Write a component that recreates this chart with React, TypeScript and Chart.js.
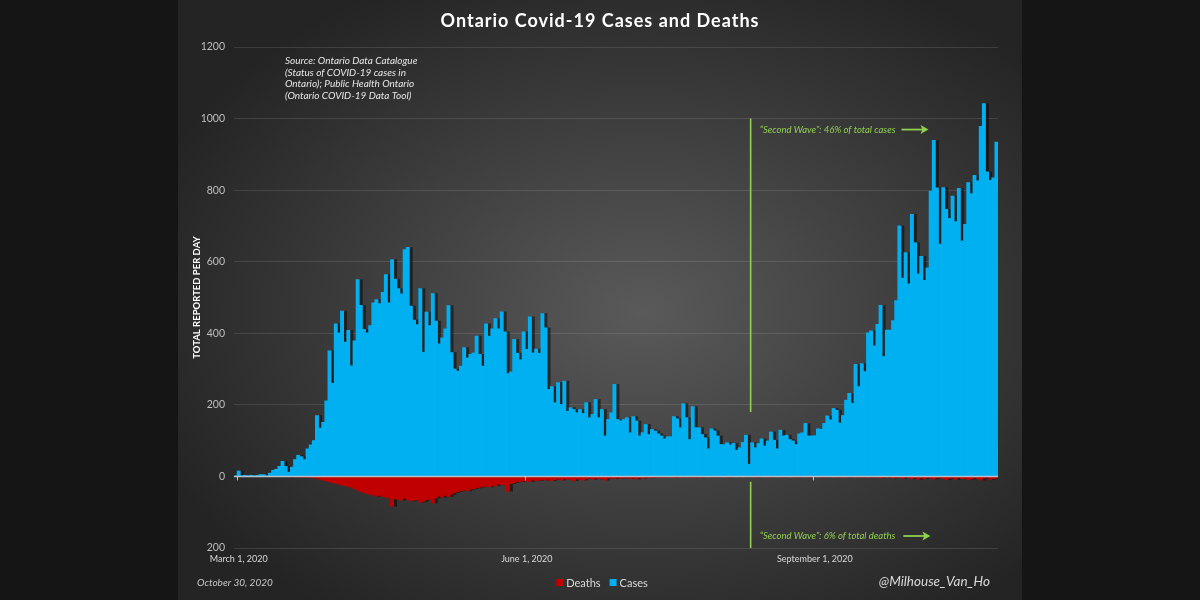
import React, { useEffect, useRef } from 'react';
import { Chart, registerables } from 'chart.js';

Chart.register(...registerables);

// ---------- DATA (daily reported, Feb 29 – Oct 29, 2020) ----------
const casesFeb = [1];
const casesMar = [15, 2, 3, 2, 3, 2, 3, 5, 5, 2, 9, 17, 20, 28, 42, 28, 12, 26, 47, 59, 55, 47, 77, 88, 100, 170, 135, 151, 211, 351, 260];
const casesApr = [426, 401, 462, 375, 408, 309, 379, 550, 478, 411, 401, 421, 485, 494, 483, 514, 564, 485, 606, 551, 525, 510, 634, 640, 476, 437, 424, 525, 347, 459];
const casesMay = [421, 511, 434, 370, 387, 412, 477, 346, 300, 294, 308, 360, 331, 341, 345, 392, 341, 308, 426, 392, 412, 441, 412, 460, 404, 287, 292, 383, 344, 326, 404];
const casesJun = [355, 446, 345, 356, 344, 455, 415, 243, 251, 206, 262, 201, 266, 182, 192, 187, 178, 187, 176, 206, 164, 173, 215, 164, 187, 113, 159, 178, 257, 159];
const casesJul = [155, 159, 164, 122, 167, 155, 113, 122, 145, 117, 131, 127, 119, 113, 105, 111, 111, 167, 161, 136, 203, 164, 103, 195, 136, 136, 117, 108, 77, 133, 127];
const casesAug = [113, 89, 89, 94, 88, 92, 73, 80, 95, 115, 34, 94, 80, 92, 105, 85, 99, 124, 101, 77, 129, 113, 115, 103, 99, 89, 119, 122, 148, 113, 113];
const casesSep = [114, 133, 132, 148, 169, 158, 190, 185, 149, 170, 213, 232, 204, 313, 251, 315, 293, 401, 407, 365, 425, 478, 335, 409, 409, 435, 491, 700, 554, 625];
const casesOct = [538, 732, 653, 566, 615, 548, 583, 797, 939, 806, 649, 807, 746, 721, 783, 712, 805, 658, 704, 821, 790, 841, 826, 978, 1042, 851, 827, 834, 934];

const deathsFeb = [0];
const deathsMar = [0, 0, 0, 0, 0, 0, 0, 0, 0, 0, 0, 0, 0, 0, 0, 0, 1, 0, 1, 1, 2, 2, 3, 3, 4, 5, 8, 11, 12, 15, 17];
const deathsApr = [19, 21, 24, 26, 28, 30, 34, 38, 42, 45, 48, 50, 52, 55, 53, 56, 58, 60, 83, 62, 64, 66, 60, 65, 68, 66, 65, 72, 70, 65];
const deathsMay = [64, 74, 60, 55, 58, 53, 56, 50, 45, 42, 40, 38, 40, 36, 34, 32, 30, 28, 27, 29, 25, 26, 22, 22, 24, 41, 20, 17, 15, 14, 12];
const deathsJun = [13, 14, 10, 12, 11, 9, 10, 8, 12, 9, 7, 10, 6, 8, 9, 12, 7, 8, 10, 6, 5, 8, 4, 7, 6, 10, 5, 4, 6, 3];
const deathsJul = [5, 4, 3, 6, 4, 7, 3, 5, 2, 4, 3, 2, 1, 3, 2, 1, 2, 3, 1, 2, 1, 2, 1, 3, 1, 2, 1, 0, 1, 2, 1];
const deathsAug = [1, 0, 1, 2, 1, 0, 1, 0, 1, 1, 0, 1, 2, 1, 0, 1, 2, 1, 0, 1, 2, 1, 0, 1, 1, 2, 1, 0, 1, 2, 1];
const deathsSep = [0, 1, 2, 1, 1, 0, 1, 2, 1, 1, 2, 1, 0, 2, 1, 2, 1, 3, 2, 1, 2, 4, 2, 3, 1, 4, 2, 3, 5, 2];
const deathsOct = [4, 6, 3, 8, 4, 6, 3, 5, 7, 4, 3, 6, 9, 5, 4, 8, 3, 6, 5, 9, 7, 4, 6, 10, 5, 3, 8, 6, 4];

const cases = [...casesFeb, ...casesMar, ...casesApr, ...casesMay, ...casesJun, ...casesJul, ...casesAug, ...casesSep, ...casesOct];
const deaths = [...deathsFeb, ...deathsMar, ...deathsApr, ...deathsMay, ...deathsJun, ...deathsJul, ...deathsAug, ...deathsSep, ...deathsOct];

const MONTHS = ['January', 'February', 'March', 'April', 'May', 'June', 'July', 'August', 'September', 'October', 'November', 'December'];
const categories = cases.map((_, i) => {
  const d = new Date(2020, 1, 29 + i);
  return `${MONTHS[d.getMonth()]} ${d.getDate()}, ${d.getFullYear()}`;
});

const xTickLabels = ['March 1, 2020', 'June 1, 2020', 'September 1, 2020'];
const yTicks = [-200, 0, 200, 400, 600, 800, 1000, 1200];
const secondWaveStart = 'August 12, 2020';

const titleText = 'Ontario Covid-19 Cases and Deaths';
const yTitle = 'TOTAL REPORTED PER DAY';
const sourceLines = [
  'Source: Ontario Data Catalogue',
  '(Status of COVID-19 cases in',
  'Ontario); Public Health Ontario',
  '(Ontario COVID-19 Data Tool)',
];
const waveCasesText = '\u201CSecond Wave\u201D: 46% of total cases';
const waveDeathsText = '\u201CSecond Wave\u201D: 6% of total deaths';
const dateText = 'October 30, 2020';
const handleText = '@Milhouse_Van_Ho';

const CASES_COLOR = '#00b0f0';
const DEATHS_COLOR = '#c00000';
const GREEN = '#92d050';
const FONT = 'Lato, "Open Sans", sans-serif';

function drawArrow(ctx: CanvasRenderingContext2D, x1: number, x2: number, y: number) {
  ctx.save();
  ctx.strokeStyle = GREEN;
  ctx.fillStyle = GREEN;
  ctx.lineWidth = 1.8;
  ctx.beginPath();
  ctx.moveTo(x1, y);
  ctx.lineTo(x2 - 4, y);
  ctx.stroke();
  ctx.beginPath();
  ctx.moveTo(x2, y);
  ctx.lineTo(x2 - 8, y - 4.5);
  ctx.lineTo(x2 - 6, y);
  ctx.lineTo(x2 - 8, y + 4.5);
  ctx.closePath();
  ctx.fill();
  ctx.restore();
}

const overlayPlugin = {
  id: 'overlay',
  beforeDatasetDraw(chart: any) {
    const c = chart.ctx;
    c.save();
    c.shadowColor = 'rgba(0,0,0,0.5)';
    c.shadowOffsetX = 3;
    c.shadowOffsetY = 0;
    c.shadowBlur = 0;
  },
  afterDatasetDraw(chart: any) {
    chart.ctx.restore();
  },
  afterDatasetsDraw(chart: any) {
    const { ctx, chartArea, scales } = chart;
    const xs = scales.x;
    const ys = scales.y;
    const step = xs.getPixelForValue(1) - xs.getPixelForValue(0);
    const y0 = ys.getPixelForValue(0);
    ctx.save();
    ctx.strokeStyle = '#b8c0c8';
    ctx.lineWidth = 1.6;
    ctx.beginPath();
    ctx.moveTo(chartArea.left, y0);
    ctx.lineTo(chartArea.right, y0);
    ctx.stroke();
    ctx.strokeStyle = '#c8c8c8';
    ctx.lineWidth = 1;
    xTickLabels.forEach((lbl) => {
      const idx = categories.indexOf(lbl);
      if (idx < 0) return;
      const x = Math.round(xs.getPixelForValue(idx) - step / 2) + 0.5;
      ctx.beginPath();
      ctx.moveTo(x, y0);
      ctx.lineTo(x, y0 + 4);
      ctx.stroke();
    });
    const wIdx = categories.indexOf(secondWaveStart);
    const wx = xs.getPixelForValue(wIdx) - step / 2;
    ctx.strokeStyle = GREEN;
    ctx.lineWidth = 1.6;
    ctx.beginPath();
    ctx.moveTo(wx, ys.getPixelForValue(1000));
    ctx.lineTo(wx, ys.getPixelForValue(180));
    ctx.moveTo(wx, ys.getPixelForValue(-15));
    ctx.lineTo(wx, ys.getPixelForValue(-200));
    ctx.stroke();
    ctx.restore();
  },
  afterDraw(chart: any) {
    const { ctx, chartArea, scales } = chart;
    const xs = scales.x;
    const ys = scales.y;
    const step = xs.getPixelForValue(1) - xs.getPixelForValue(0);
    ctx.save();
    ctx.fillStyle = '#ffffff';
    ctx.font = `bold 18px ${FONT}`;
    (ctx as any).letterSpacing = '1px';
    ctx.textAlign = 'center';
    ctx.textBaseline = 'middle';
    ctx.fillText(titleText, 600, 21);
    (ctx as any).letterSpacing = '0px';

    ctx.font = `italic 10px ${FONT}`;
    ctx.fillStyle = '#e6e6e6';
    ctx.textAlign = 'left';
    sourceLines.forEach((line, i) => {
      ctx.fillText(line, chartArea.left + 51, chartArea.top + 14 + i * 11.6);
    });

    const wIdx = categories.indexOf(secondWaveStart);
    const wx = xs.getPixelForValue(wIdx) - step / 2;
    ctx.font = `italic 9.5px ${FONT}`;
    ctx.fillStyle = GREEN;
    const yTop = ys.getPixelForValue(1000) + 11;
    const yBot = ys.getPixelForValue(-200) - 12;
    ctx.fillText(waveCasesText, wx + 9, yTop);
    let w = ctx.measureText(waveCasesText).width;
    drawArrow(ctx, wx + 9 + w + 6, wx + 9 + w + 33, yTop);
    ctx.fillText(waveDeathsText, wx + 9, yBot);
    w = ctx.measureText(waveDeathsText).width;
    drawArrow(ctx, wx + 9 + w + 8, wx + 9 + w + 35, yBot);

    ctx.font = `italic 10px ${FONT}`;
    ctx.fillStyle = '#c8c8c8';
    ctx.fillText(dateText, 197, 583);
    ctx.font = `italic 13.5px ${FONT}`;
    ctx.fillStyle = '#d9d9d9';
    ctx.textAlign = 'right';
    ctx.fillText(handleText, 990, 582);

    ctx.font = `11px ${FONT}`;
    ctx.textAlign = 'left';
    const items = [
      { label: 'Deaths', color: DEATHS_COLOR },
      { label: 'Cases', color: CASES_COLOR },
    ];
    const box = 7;
    const gapBox = 3;
    const gapItem = 9;
    const widths = items.map((it) => box + gapBox + ctx.measureText(it.label).width);
    const total = widths.reduce((a, b) => a + b, 0) + gapItem;
    let lx = 602 - total / 2;
    items.forEach((it, i) => {
      ctx.fillStyle = it.color;
      ctx.fillRect(lx, 579, box, box);
      ctx.fillStyle = '#d9d9d9';
      ctx.fillText(it.label, lx + box + gapBox, 583);
      lx += widths[i] + gapItem;
    });
    ctx.restore();
  },
};

export default function App() {
  const ref = useRef<HTMLCanvasElement | null>(null);
  useEffect(() => {
    if (!ref.current) return;
    const chart = new Chart(ref.current, {
      type: 'bar',
      data: {
        labels: categories,
        datasets: [
          {
            label: 'Deaths',
            data: deaths.map((d) => -d),
            backgroundColor: DEATHS_COLOR,
            borderWidth: 0,
            grouped: false,
            barPercentage: 1,
            categoryPercentage: 1,
            inflateAmount: 0.4,
            order: 2,
          },
          {
            label: 'Cases',
            data: cases,
            backgroundColor: CASES_COLOR,
            borderWidth: 0,
            grouped: false,
            barPercentage: 1,
            categoryPercentage: 1,
            inflateAmount: 0.4,
            order: 1,
          },
        ],
      },
      options: {
        responsive: false,
        animation: false,
        layout: { padding: { left: 184, right: 202, top: 47, bottom: 32 } },
        plugins: {
          legend: { display: false },
          title: { display: false },
          tooltip: { enabled: false },
        },
        scales: {
          x: {
            type: 'category',
            grid: { display: false, drawTicks: false },
            border: { display: false },
            ticks: {
              autoSkip: false,
              maxRotation: 0,
              minRotation: 0,
              padding: 6,
              color: '#d9d9d9',
              font: { family: FONT, size: 9 },
              callback: function (this: any, value: any) {
                const lbl = this.getLabelForValue(value);
                return xTickLabels.includes(lbl) ? lbl : '';
              },
            },
            afterFit: (s: any) => {
              s.height = 20;
            },
          },
          y: {
            min: yTicks[0],
            max: yTicks[yTicks.length - 1],
            afterBuildTicks: (s: any) => {
              s.ticks = yTicks.map((v) => ({ value: v }));
            },
            grid: {
              drawTicks: false,
              color: (c: any) => (c.tick && c.tick.value === 0 ? 'rgba(0,0,0,0)' : 'rgba(255,255,255,0.11)'),
              lineWidth: 1,
            },
            border: { display: false },
            ticks: {
              padding: 9,
              color: '#bfbfbf',
              font: { family: FONT, size: 10.5 },
              callback: (v: any) => String(Math.abs(Number(v))),
            },
            title: {
              display: true,
              text: yTitle,
              color: '#ffffff',
              font: { family: FONT, size: 9.5, weight: 'bold' },
              padding: { top: 7, bottom: 0 },
            },
            afterFit: (s: any) => {
              s.width = 50;
            },
          },
        },
      },
      plugins: [overlayPlugin],
    });
    return () => chart.destroy();
  }, []);

  return (
    <div style={{ position: 'fixed', left: 0, top: 0, width: 1200, height: 600, background: '#151515', overflow: 'hidden' }}>
      <div
        style={{
          position: 'absolute',
          left: 178,
          top: 0,
          width: 844,
          height: 600,
          background: 'radial-gradient(ellipse 62% 62% at 55% 52%, #5a5a5a 0%, #474747 35%, #343434 70%, #242424 100%)',
        }}
      />
      <canvas ref={ref} width={1200} height={600} style={{ position: 'absolute', left: 0, top: 0, width: 1200, height: 600 }} />
    </div>
  );
}
